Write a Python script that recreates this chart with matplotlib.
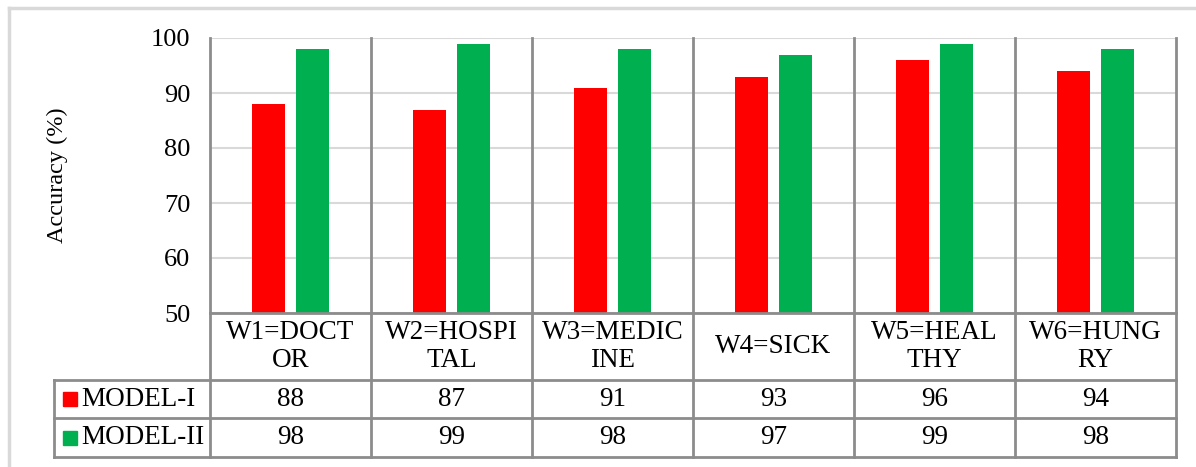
import matplotlib
matplotlib.use("Agg")
import matplotlib.pyplot as plt
from matplotlib.patches import Rectangle

words = ["W1=DOCT\nOR", "W2=HOSPI\nTAL", "W3=MEDIC\nINE", "W4=SICK",
         "W5=HEAL\nTHY", "W6=HUNG\nRY"]
model_1 = [88, 87, 91, 93, 96, 94]
model_2 = [98, 99, 98, 97, 99, 98]
series_names = ["MODEL-I", "MODEL-II"]
colors = ["#ff0000", "#00b050"]
yticks = [50, 60, 70, 80, 90, 100]

plt.rcParams["font.family"] = ["Liberation Serif", "DejaVu Serif"]

W, H = 1196, 467
fig = plt.figure(figsize=(W / 100, H / 100), dpi=100)

def px_box(x0, y0, x1, y1):
    # pixel box (top-left origin) -> figure fraction rect
    return [x0 / W, 1 - y1 / H, (x1 - x0) / W, (y1 - y0) / H]

grid_c = "#d9d9d9"
line_c = "#8c8c8c"
n = len(words)
fs = 19.5

# chart border (top and left edges)
fig.add_artist(plt.Line2D([9 / W, 1], [1 - 8 / H, 1 - 8 / H], color=grid_c, lw=2.5,
                          transform=fig.transFigure))
fig.add_artist(plt.Line2D([9 / W, 9 / W], [0, 1 - 8 / H], color=grid_c, lw=2.5,
                          transform=fig.transFigure))

# bar area
ax = fig.add_axes(px_box(210, 38, 1176, 313))
x = list(range(n))
w = 0.205
ax.bar([i - 0.137 for i in x], model_1, w, color=colors[0], zorder=3)
ax.bar([i + 0.137 for i in x], model_2, w, color=colors[1], zorder=3)
ax.set_xlim(-0.5, n - 0.5)
ax.set_ylim(50, 100)
ax.set_yticks(yticks)
ax.set_xticks([])
ax.tick_params(axis="y", length=0, labelsize=19, pad=14)
ax.yaxis.grid(True, color=grid_c, lw=1.5, zorder=0)
for s in ax.spines.values():
    s.set_visible(False)
ax.set_ylabel("Accuracy (%)", fontsize=17.5, labelpad=60)

# data table below, sharing the category scale
lab_w = 156 / 161
tb = fig.add_axes(px_box(54, 313, 1176, 457))
tb.set_xlim(-0.5 - lab_w, n - 0.5)
tb.set_ylim(144, 0)
tb.axis("off")
rows = [0, 67, 105, 144]
for b in [i - 0.5 for i in range(n + 1)]:
    tb.plot([b, b], [0, 144], color=line_c, lw=2, clip_on=False, zorder=4)
    ax.plot([b, b], [50, 100], color=line_c, lw=2, clip_on=False, zorder=4)
tb.plot([-0.5, n - 0.5], [0, 0], color=line_c, lw=2, clip_on=False)
for r in rows[1:]:
    tb.plot([-0.5 - lab_w, n - 0.5], [r, r], color=line_c, lw=2, clip_on=False)
tb.plot([-0.5 - lab_w] * 2, [67, 144], color=line_c, lw=2, clip_on=False)

for i, lab in enumerate(words):
    tb.text(i, 33.5, lab, ha="center", va="center", fontsize=fs, linespacing=1.15)
for r, (name, vals, c) in enumerate(zip(series_names, [model_1, model_2], colors)):
    yc = (rows[r + 1] + rows[r + 2]) / 2
    tb.add_patch(Rectangle((-0.5 - lab_w + 9 / 161, yc - 7), 14 / 161, 14,
                           color=c, clip_on=False))
    tb.text(-0.5 - lab_w + 27 / 161, yc, name, ha="left", va="center", fontsize=fs)
    for i, v in enumerate(vals):
        tb.text(i, yc, str(v), ha="center", va="center", fontsize=fs)

fig.savefig("out.png", dpi=100, facecolor="white")
